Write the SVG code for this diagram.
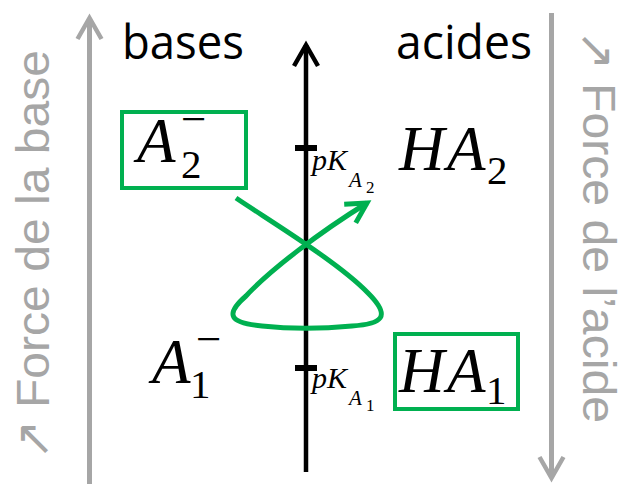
<svg xmlns="http://www.w3.org/2000/svg" width="625" height="484" viewBox="0 0 625 484">
<defs>
<style>
.lbl{font-family:"Open Sans","Liberation Sans",sans-serif;font-size:47px;fill:#000}
.side{font-family:"Liberation Sans","DejaVu Sans",sans-serif;font-size:46px;fill:#a6a6a6}
.arw{font-family:"DejaVu Sans",sans-serif;font-size:48px}
.m{font-family:"Liberation Serif","DejaVu Serif",serif;font-style:italic;fill:#000}
.d{font-family:"Liberation Serif","DejaVu Serif",serif;font-style:normal;fill:#000}
.box{fill:none;stroke:#00b050;stroke-width:4}
.gray{stroke:#a6a6a6;stroke-width:5;fill:none}
.axis{stroke:#000;stroke-width:4.5;fill:none}
.tick{stroke:#000;stroke-width:6}
.green{stroke:#00b050;stroke-width:5;fill:none}
</style>
<marker id="mGray" markerUnits="userSpaceOnUse" viewBox="-30 -20 40 40" markerWidth="40" markerHeight="40" refX="0" refY="0" orient="auto" overflow="visible">
<path d="M-21,-12 L0,0 L-21,12" fill="none" stroke="#a6a6a6" stroke-width="4.5"/>
</marker>
<marker id="mBlack" markerUnits="userSpaceOnUse" viewBox="-30 -20 40 40" markerWidth="40" markerHeight="40" refX="0" refY="0" orient="auto" overflow="visible">
<path d="M-21,-12 L0,0 L-21,12" fill="none" stroke="#000" stroke-width="4.5"/>
</marker>
<marker id="mGreen" markerUnits="userSpaceOnUse" viewBox="-30 -20 40 40" markerWidth="40" markerHeight="40" refX="0" refY="0" orient="auto" overflow="visible">
<path d="M-20,-11 L0,0 L-20,11" fill="none" stroke="#00b050" stroke-width="5"/>
</marker>
</defs>
<rect width="625" height="484" fill="#fff"/>

<g id="connectors">
<line class="gray" x1="89.5" y1="484" x2="89.5" y2="18" marker-end="url(#mGray)"/>
<line class="gray" x1="551.5" y1="13" x2="551.5" y2="478" marker-end="url(#mGray)"/>
<line class="axis" x1="306" y1="472" x2="306" y2="45" marker-end="url(#mBlack)"/>
<line class="tick" x1="295" y1="148" x2="317" y2="148"/>
<line class="tick" x1="295" y1="368" x2="317" y2="368"/>
<path class="green" d="M236,198 C270,221 338,262 368,293 C392,317 382,324 352,326 C320,329 290,329 262,326 C230,323 224,315 246,296 C270,270 320,232 367,203" marker-end="url(#mGreen)"/>
</g>

<g id="label-left">
<text class="side" transform="translate(49,0) rotate(-90)"><tspan class="arw" x="-460" y="0">↗</tspan><tspan x="-408" y="0" textLength="358" lengthAdjust="spacingAndGlyphs">Force de la base</tspan></text>
</g>
<g id="label-right">
<text class="side" transform="translate(583,0) rotate(90)"><tspan class="arw" x="30" y="2">↗</tspan><tspan x="83" y="0" textLength="340" lengthAdjust="spacingAndGlyphs">Force de l’acide</tspan></text>
</g>

<g id="bases"><text class="lbl" x="122" y="59" textLength="122" lengthAdjust="spacingAndGlyphs">bases</text></g>
<g id="acides"><text class="lbl" x="396" y="59" textLength="136" lengthAdjust="spacingAndGlyphs">acides</text></g>

<g id="A2">
<rect class="box" x="122" y="112" width="124" height="76"/>
<text class="m" font-size="63"><tspan x="137" y="162">A</tspan><tspan class="d" x="181" y="178" font-size="41">2</tspan><tspan class="d" x="181" y="134" font-size="45">−</tspan></text>
</g>

<g id="HA2">
<text class="m" font-size="63"><tspan x="399" y="170">H</tspan><tspan x="447" y="170">A</tspan><tspan class="d" x="487" y="184" font-size="41">2</tspan></text>
</g>

<g id="pKA2">
<text class="m" font-size="30"><tspan x="312" y="170">p</tspan><tspan x="327" y="170">K</tspan><tspan x="349" y="187" font-size="21">A</tspan><tspan class="d" x="366" y="193" font-size="17">2</tspan></text>
</g>

<g id="A1">
<text class="m" font-size="63"><tspan x="152" y="383">A</tspan><tspan class="d" x="190" y="398" font-size="41">1</tspan><tspan class="d" x="196" y="354" font-size="45">−</tspan></text>
</g>

<g id="HA1">
<rect class="box" x="395" y="334" width="123" height="75"/>
<text class="m" font-size="63"><tspan x="399" y="392">H</tspan><tspan x="447" y="392">A</tspan><tspan class="d" x="486" y="404" font-size="41">1</tspan></text>
</g>

<g id="pKA1">
<text class="m" font-size="30"><tspan x="312" y="388">p</tspan><tspan x="327" y="388">K</tspan><tspan x="349" y="405" font-size="21">A</tspan><tspan class="d" x="366" y="411" font-size="17">1</tspan></text>
</g>
</svg>
